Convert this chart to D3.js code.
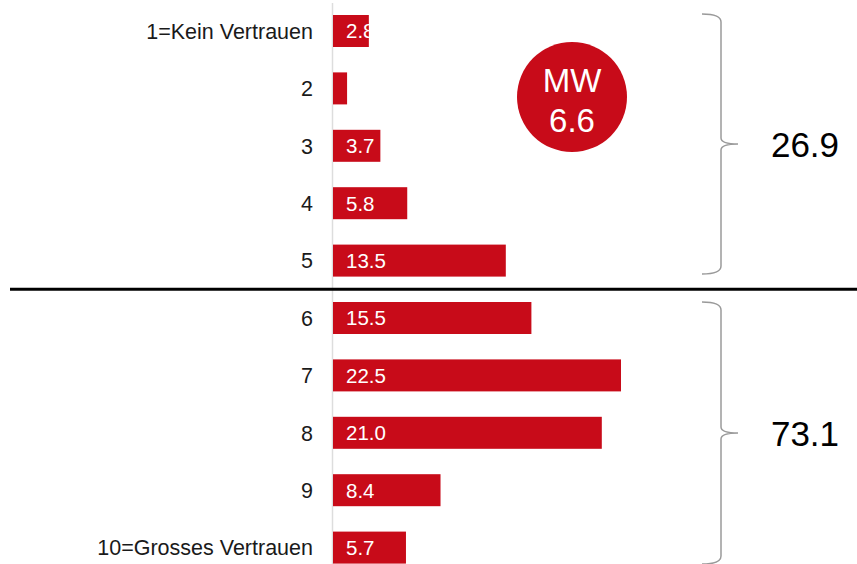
<!DOCTYPE html>
<html><head><meta charset="utf-8">
<script src="https://cdn.jsdelivr.net/npm/d3@7"></script>
<style>html,body{margin:0;padding:0;background:#fff;}svg{display:block;}</style>
</head><body>
<svg id="chart" width="857" height="564"></svg>
<script>
const categories = ["1=Kein Vertrauen","2","3","4","5","6","7","8","9","10=Grosses Vertrauen"];
const values = [2.8, 1.1, 3.7, 5.8, 13.5, 15.5, 22.5, 21.0, 8.4, 5.7];
const valueLabels = ["2.8","","3.7","5.8","13.5","15.5","22.5","21.0","8.4","5.7"];
const groupTotals = ["26.9","73.1"];
const meanLabel = ["MW","6.6"];

const svg = d3.select("#chart");
const red = "#c80b19";
const font = "'Liberation Sans', Arial, Helvetica, sans-serif";

const y = d3.scaleBand().domain(categories).range([2.3, 576.3]).paddingInner(0.4425).paddingOuter(0.22125);
const x = d3.scaleLinear().domain([0, d3.max(values)]).range([333, 621]);

// axis line
svg.append("line").attr("x1",332.5).attr("x2",332.5).attr("y1",3).attr("y2",564)
  .attr("stroke","#dddddd").attr("stroke-width",1.5);

// bars
svg.selectAll("rect.bar").data(values).join("rect").attr("class","bar")
  .attr("x", x(0)).attr("y",(d,i)=>y(categories[i]))
  .attr("width", d=>x(d)-x(0)).attr("height", y.bandwidth()).attr("fill", red);

// bar labels
svg.selectAll("text.val").data(valueLabels).join("text").attr("class","val")
  .attr("x", x(0)+13).attr("y",(d,i)=>y(categories[i])+y.bandwidth()/2)
  .attr("dy","0.36em").attr("fill","#fff").attr("font-family",font).attr("font-size",20.5)
  .text(d=>d);

// category labels
svg.selectAll("text.cat").data(categories).join("text").attr("class","cat")
  .attr("x", 313).attr("y",d=>y(d)+y.bandwidth()/2).attr("dy","0.36em")
  .attr("text-anchor","end").attr("fill","#1a1a1a").attr("font-family",font).attr("font-size",21.5)
  .text(d=>d);

// separator
const sepY = (y(categories[4])+y.bandwidth()+y(categories[5]))/2;
svg.append("line").attr("x1",10).attr("x2",857).attr("y1",sepY).attr("y2",sepY)
  .attr("stroke","#000").attr("stroke-width",3);

// braces
function brace(top, bottom){
  const x0=702, x1=721, xt=738, mid=(top+bottom)/2;
  return `M${x0},${top} Q${x1},${top} ${x1},${top+8} L${x1},${mid-6} Q${x1},${mid} ${xt},${mid} Q${x1},${mid} ${x1},${mid+6} L${x1},${bottom-8} Q${x1},${bottom} ${x0},${bottom}`;
}
const groups = [[0,4],[5,9]];
groups.forEach((g,i)=>{
  const top = y(categories[g[0]]) - 1 + (i===1?1:0);
  const bottom = y(categories[g[1]]) + y.bandwidth() - (i===0?2.6:-0.5);
  svg.append("path").attr("d",brace(top,bottom)).attr("fill","none")
    .attr("stroke","#9a9a9a").attr("stroke-width",1.5);
  svg.append("text").attr("x",805).attr("y",(top+bottom)/2).attr("dy","0.36em")
    .attr("text-anchor","middle").attr("font-family",font).attr("font-size",35)
    .attr("fill","#000").text(groupTotals[i]);
});

// mean circle
svg.append("circle").attr("cx",572).attr("cy",97).attr("r",55).attr("fill",red);
svg.selectAll("text.mw").data(meanLabel).join("text").attr("class","mw")
  .attr("x",572).attr("y",(d,i)=>80+i*40).attr("dy","0.36em").attr("text-anchor","middle")
  .attr("fill","#fff").attr("font-family",font).attr("font-size",33).text(d=>d);
</script>
</body></html>
